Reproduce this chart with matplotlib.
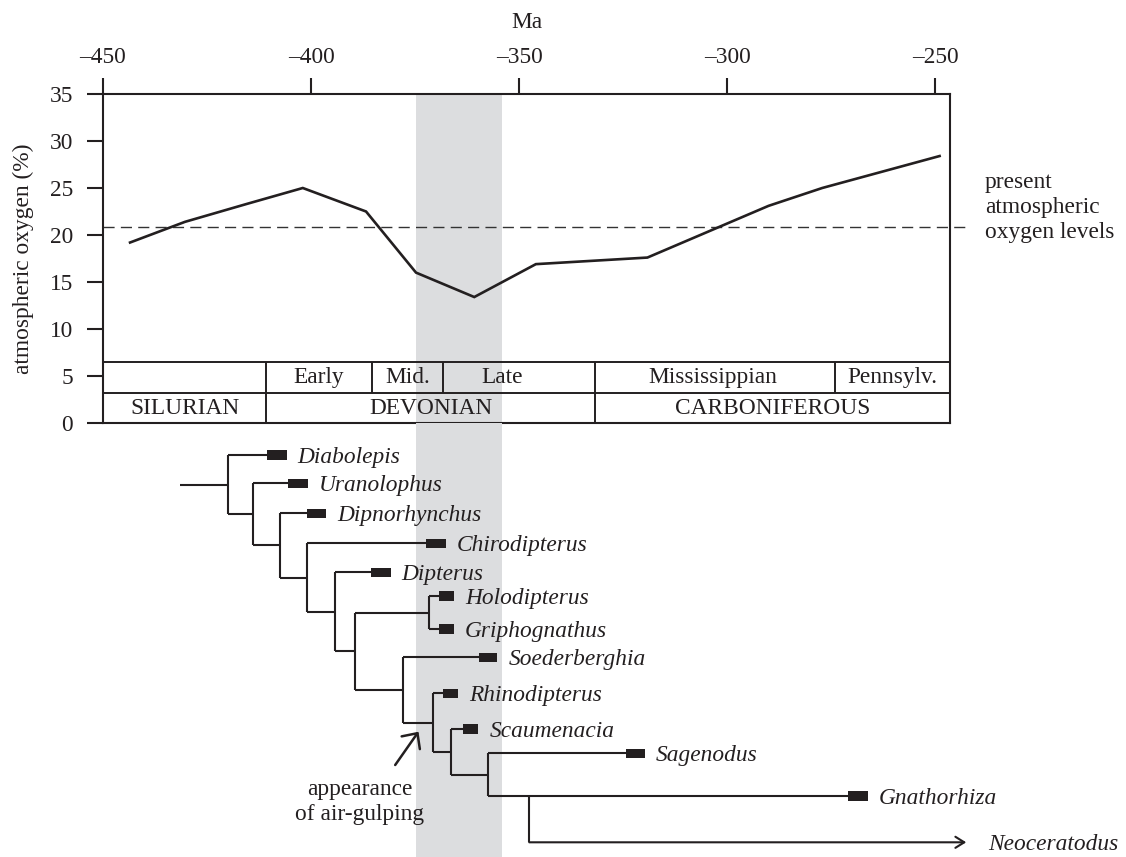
import matplotlib
matplotlib.use('Agg')
import matplotlib.pyplot as plt
from matplotlib.patches import Rectangle

plt.rcParams['font.family'] = ['Liberation Serif', 'DejaVu Serif']

# ---------------- data ----------------
ma_ticks = [-450, -400, -350, -300, -250]
ma_tick_labels = ['–450', '–400', '–350', '–300', '–250']
oxy_ticks = [0, 5, 10, 15, 20, 25, 30, 35]

o2_age = [-443.5, -430.3, -415.5, -402.0, -386.8, -374.8, -360.8, -346.0,
          -319.2, -290.1, -277.2, -249.0]
o2_pct = [19.2, 21.4, 23.3, 25.0, 22.5, 16.0, 13.4, 16.9, 17.6, 23.1, 25.0, 28.4]
present_o2 = 20.9

period_names = ['SILURIAN', 'DEVONIAN', 'CARBONIFEROUS']
period_bounds = [-450, -410.8, -331.7, -246.5]
epoch_names = ['', 'Early', 'Mid.', 'Late', 'Mississippian', 'Pennsylv.']
epoch_bounds = [-450, -410.8, -385.4, -368.2, -331.7, -274.1, -246.5]
epoch_label_age = [-430.4, -398.1, -376.8, -354.1, -303.5, -260.3]
table_rows = [0, 3.19, 6.49]

air_gulping_band = (-374.7, -354.1)

# cladogram: leaves (row position, first-appearance range in Ma)
leaf_names = ['Diabolepis', 'Uranolophus', 'Dipnorhynchus', 'Chirodipterus',
              'Dipterus', 'Holodipterus', 'Griphognathus', 'Soederberghia',
              'Rhinodipterus', 'Scaumenacia', 'Sagenodus', 'Gnathorhiza',
              'Neoceratodus']
leaf_row = [455, 483.3, 513.3, 543.3, 572.3, 596, 629, 657.3, 693.3, 729,
            753.3, 796, 842.3]
leaf_fad_start = [-410.5, -405.5, -401.1, -372.4, -385.6, -369.2, -369.2,
                  -359.6, -368.2, -363.4, -324.4, -271.0, None]
leaf_fad_end = [-405.9, -400.8, -396.5, -367.7, -380.9, -365.7, -365.7,
                -355.3, -364.6, -359.8, -319.8, -266.3, None]
extant_until = -242.6   # Neoceratodus (living)

# internal nodes: name -> (age in Ma, children, attach-at-top)
nodes = {
    'n1': (-420.0, ['Diabolepis', 'n2'], False),
    'n2': (-413.9, ['Uranolophus', 'n3'], False),
    'n3': (-407.5, ['Dipnorhynchus', 'n4'], False),
    'n4': (-401.1, ['Chirodipterus', 'n5'], False),
    'n5': (-394.3, ['Dipterus', 'n6'], False),
    'n6': (-389.5, ['nHG', 'n7'], False),
    'nHG': (-371.6, ['Holodipterus', 'Griphognathus'], False),
    'n7': (-378.0, ['Soederberghia', 'n8'], False),
    'n8': (-370.8, ['Rhinodipterus', 'n9'], False),
    'n9': (-366.5, ['Scaumenacia', 'n10'], False),
    'n10': (-357.6, ['Sagenodus', 'n11'], False),
    'n11': (-347.6, ['Gnathorhiza', 'Neoceratodus'], True),
}
root_stem_age = -431.5

arrow_tail = (-379.8, 765)
arrow_tip = (-374.2, 731.7)
note_pos = (-388.3, 802)

# ---------------- style ----------------
ink = '#231f20'
band_col = '#dcdddf'
fs = 16.8
W, H = 1126, 857

fig = plt.figure(figsize=(W / 100, H / 100), dpi=100)
fig.patch.set_facecolor('white')

ax = fig.add_axes([103 / W, 1 - 423 / H, 847 / W, 329 / H])
ax.set_xlim(period_bounds[0], period_bounds[-1])
ax.set_ylim(0, 35)

ax.axvspan(*air_gulping_band, color=band_col, lw=0, zorder=0)

ax.plot(o2_age, o2_pct, color=ink, lw=1.9, zorder=3, solid_joinstyle='miter')
ax.axhline(present_o2, xmin=0, xmax=1.018, color='#333333', lw=1.0,
           ls=(0, (8, 4.5)), clip_on=False, zorder=2)
ax.text(-238.1, present_o2 + 2.0, 'present\natmospheric\noxygen levels',
        fontsize=fs, color=ink, ha='left', va='center', linespacing=1.24,
        clip_on=False)

# stratigraphic table
for yv in table_rows[1:]:
    ax.axhline(yv, color=ink, lw=1.4, zorder=4)
for b in period_bounds[1:-1]:
    ax.vlines(b, table_rows[0], table_rows[2], color=ink, lw=1.4, zorder=4)
for b in epoch_bounds[1:-1]:
    if b not in period_bounds:
        ax.vlines(b, table_rows[1], table_rows[2], color=ink, lw=1.4, zorder=4)
for name, lo, hi in zip(period_names, period_bounds[:-1], period_bounds[1:]):
    ax.text((lo + hi) / 2, (table_rows[0] + table_rows[1]) / 2 - 0.1, name,
            fontsize=fs, color=ink, ha='center', va='center', zorder=5)
for name, xa in zip(epoch_names, epoch_label_age):
    if name:
        ax.text(xa, (table_rows[1] + table_rows[2]) / 2 + 0.05, name,
                fontsize=fs, color=ink, ha='center', va='center', zorder=5)

# axes styling
for s in ax.spines.values():
    s.set_color(ink)
    s.set_linewidth(1.5)
ax.xaxis.tick_top()
ax.xaxis.set_label_position('top')
ax.set_xticks(ma_ticks, ma_tick_labels)
ax.set_yticks(oxy_ticks)
ax.tick_params(axis='x', direction='out', length=11.5, width=1.5, pad=7,
               labelsize=fs, colors=ink)
ax.tick_params(axis='y', direction='out', length=11.5, width=1.5, pad=10,
               labelsize=fs, colors=ink)
ax.set_xlabel('Ma', fontsize=fs, color=ink, labelpad=14)
ax.set_ylabel('atmospheric oxygen (%)', fontsize=fs, color=ink)
ax.yaxis.set_label_coords(-0.0815, 0.498)

# ---------------- cladogram ----------------
axt = fig.add_axes([103 / W, 0, 847 / W, 1 - 423 / H], sharex=ax)
axt.set_ylim(H, 423)
axt.axis('off')
axt.axvspan(*air_gulping_band, color=band_col, lw=0, zorder=0)

leaf_info = {n: (r, s, e) for n, r, s, e in
             zip(leaf_names, leaf_row, leaf_fad_start, leaf_fad_end)}
attach = {}


def attach_y(name):
    if name in leaf_info:
        return leaf_info[name][0]
    if name in attach:
        return attach[name]
    age, kids, top = nodes[name]
    ys = [attach_y(k) for k in kids]
    attach[name] = ys[0] if top else (min(ys) + max(ys)) / 2
    return attach[name]


def start_x(name):
    if name in leaf_info:
        s = leaf_info[name][1]
        return s if s is not None else extant_until
    return nodes[name][0]


lw_tree = 1.5
for name, (age, kids, top) in nodes.items():
    ys = [attach_y(k) for k in kids]
    axt.vlines(age, min(ys), max(ys), color=ink, lw=lw_tree, clip_on=False)
    for k, yk in zip(kids, ys):
        if k == 'Neoceratodus':
            axt.annotate('', xy=(extant_until, yk), xytext=(age, yk),
                         arrowprops=dict(arrowstyle='->,head_length=0.32,head_width=0.2',
                                         lw=lw_tree, color=ink, shrinkA=0, shrinkB=0,
                                         mutation_scale=20),
                         annotation_clip=False)
        else:
            axt.hlines(yk, age, start_x(k), color=ink, lw=lw_tree, clip_on=False)

r0 = attach_y('n1')
axt.hlines(r0, root_stem_age, nodes['n1'][0], color=ink, lw=lw_tree)

bar_h = 9.3
for n in leaf_names:
    r, s, e = leaf_info[n]
    if s is not None:
        axt.add_patch(Rectangle((s, r - bar_h / 2), e - s, bar_h, color=ink,
                                lw=0, zorder=4, clip_on=False))
        xe, off = e, 8
    else:
        xe, off = extant_until, 16
    axt.annotate(n, xy=(xe, r), xytext=(off, -5.5), textcoords='offset points',
                 fontsize=fs, style='italic', color=ink, ha='left',
                 va='baseline', annotation_clip=False)

axt.annotate('', xy=arrow_tip, xytext=arrow_tail,
             arrowprops=dict(arrowstyle='->,head_length=0.42,head_width=0.4',
                             lw=1.8, color=ink, shrinkA=0, shrinkB=0,
                             mutation_scale=20))
axt.text(*note_pos, 'appearance\nof air-gulping', fontsize=fs, color=ink,
         ha='center', va='center', linespacing=1.2)

fig.savefig('out.png', dpi=100, facecolor='white')
